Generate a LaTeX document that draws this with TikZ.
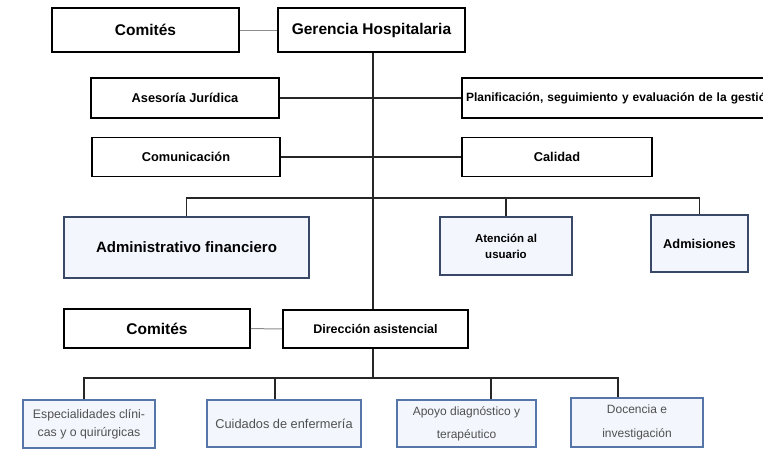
\documentclass[tikz,border=0pt]{standalone}
\usepackage{fontspec}
\setmainfont{Liberation Sans}
\definecolor{edgeblue}{RGB}{58,72,104}
\definecolor{paleblue}{RGB}{243,247,253}
\definecolor{lowblue}{RGB}{86,118,170}
\definecolor{textgray}{RGB}{80,80,80}
\begin{document}
\begin{tikzpicture}[x=1pt,y=-1pt,
    unit/.style={shape=rectangle,draw=black,line width=1.6pt,fill=white,font=\bfseries,inner sep=2pt},
    area/.style={shape=rectangle,draw=edgeblue,line width=1.4pt,fill=paleblue,font=\bfseries,align=center,inner sep=2pt},
    service/.style={shape=rectangle,draw=lowblue,line width=1.3pt,fill=paleblue,text=textgray,align=center,inner sep=2pt},
    tree/.style={draw=black!85,line width=1.6pt},
    side/.style={draw=black!45,line width=1pt}]
      \useasboundingbox (0,0) rectangle (763,450);
      % direccion general
      \node[unit,minimum width=187,minimum height=44,font=\bfseries\fontsize{15.5}{18}\selectfont] (com1) at (145.5,30) {Comités};
      \node[unit,minimum width=187,minimum height=44,font=\bfseries\fontsize{15.5}{18}\selectfont] (ger) at (371.5,30) {Gerencia Hospitalaria};
      \node[unit,minimum width=188,minimum height=40,font=\bfseries\fontsize{12.8}{15}\selectfont] (ases) at (185,98) {Asesoría Jurídica};
      \node[unit,minimum width=338,minimum height=40,text width=330,align=left,font=\bfseries\fontsize{12}{14}\selectfont] (plan) at (631,98) {Planificación, seguimiento y evaluación de la gestión};
      \node[unit,minimum width=188,minimum height=39,font=\bfseries\fontsize{12.8}{15}\selectfont] (comu) at (186,157) {Comunicación};
      \node[unit,minimum width=190,minimum height=39,font=\bfseries\fontsize{12.8}{15}\selectfont] (cal) at (557,157) {Calidad};
      % areas
      \node[area,minimum width=245,minimum height=61,font=\bfseries\fontsize{15}{18}\selectfont] (adm) at (186.5,247.5) {Administrativo financiero};
      \node[area,minimum width=132,minimum height=58,font=\bfseries\fontsize{11.5}{16}\selectfont] (ate) at (506,246) {Atención al\\usuario};
      \node[area,minimum width=97,minimum height=57,font=\bfseries\fontsize{12.8}{15}\selectfont] (admi) at (699.5,243.5) {Admisiones};
      % asistencial
      \node[unit,minimum width=186,minimum height=39,font=\bfseries\fontsize{15.5}{18}\selectfont] (com2) at (157,328.5) {Comités};
      \node[unit,minimum width=185,minimum height=38,font=\bfseries\fontsize{12.5}{15}\selectfont] (dir) at (375.5,329) {Dirección asistencial};
      \node[service,minimum width=132,minimum height=48,font=\fontsize{12.3}{18}\selectfont] (esp) at (89,424) {Especialidades clíni-\\cas y o quirúrgicas};
      \node[service,minimum width=154,minimum height=47,font=\fontsize{12.8}{15}\selectfont] (cui) at (284,423.5) {Cuidados de enfermería};
      \node[service,minimum width=139,minimum height=47,font=\fontsize{12}{23}\selectfont] (apo) at (466.5,423.5) {Apoyo diagnóstico y\\terapéutico};
      \node[service,minimum width=132,minimum height=49,font=\fontsize{12}{24}\selectfont] (doc) at (637,422.5) {Docencia e\\investigación};
      \coordinate (tr) at (373,0);
      \coordinate (b1) at (373,198);
      \coordinate (b2) at (373,378);
      % lineas
      \path[side] (com1) -- (ger);
      \path[side] (com2) -- (dir);
      \path[tree] (ger.south -| tr) -- (dir.north -| tr);
      \path[tree] (ases.east) -- (plan.west);
      \path[tree] (comu.east) -- (cal.west);
      \path[tree] (adm.north) |- (b1) -| (admi.north);
      \path[tree] (ate.north) -- (ate.north |- b1);
      \path[tree] (dir.south -| tr) -- (b2);
      \path[tree] ([xshift=-5]esp.north) |- (b2) -| ([xshift=-19]doc.north);
      \path[tree] ([xshift=-9]cui.north) -- ([xshift=-9]cui.north |- b2);
      \path[tree] ([xshift=24.5]apo.north) -- ([xshift=24.5]apo.north |- b2);
    \end{tikzpicture}
\end{document}
